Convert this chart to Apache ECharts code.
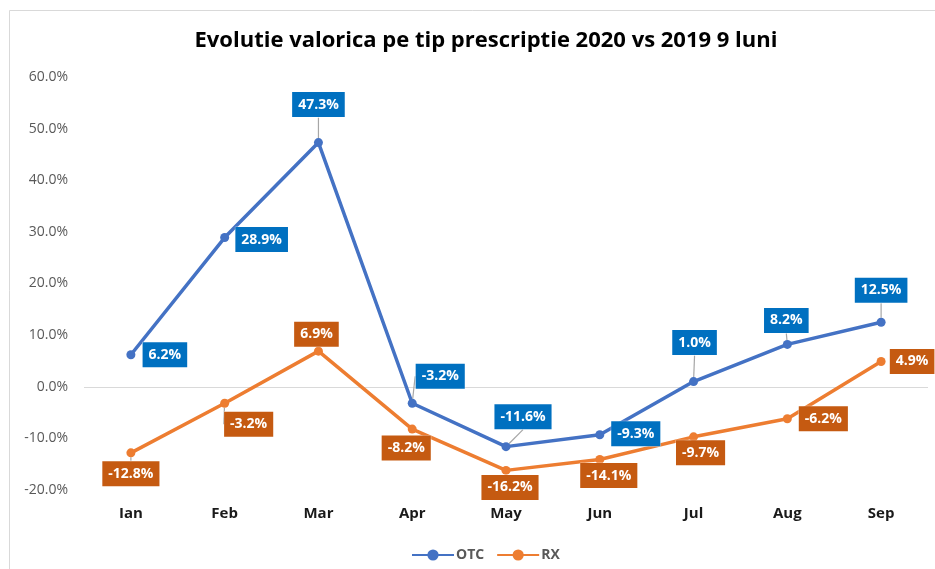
<!DOCTYPE html>
<html>
<head>
<meta charset="utf-8">
<script src="https://cdn.jsdelivr.net/npm/echarts@6/dist/echarts.min.js"></script>
<style>
html,body{margin:0;padding:0;background:#fff;}
#chart{width:935px;height:569px;}
</style>
</head>
<body>
<div id="chart"></div>
<script>
// ---- data ----
var categories = ['Ian', 'Feb', 'Mar', 'Apr', 'May', 'Jun', 'Jul', 'Aug', 'Sep'];
var otcValues = [6.2, 28.9, 47.3, -3.2, -11.6, -9.3, 1.0, 8.2, 12.5];
var rxValues = [-12.8, -3.2, 6.9, -8.2, -16.2, -14.1, -9.7, -6.2, 4.9];
var seriesNames = ['OTC', 'RX'];
var titleText = 'Evolutie valorica pe tip prescriptie 2020 vs 2019 9 luni';
var yMin = -20, yMax = 60, yStep = 10;

// ---- label layout (style only: offsets of data-label boxes from their points) ----
var otcLabelOffsets = [[34, 0], [37, 2], [0, -38], [28, -27], [17, -30], [36, -1], [1, -39], [-1, -24], [0, -32]];
var rxLabelOffsets = [[0, 21], [24, 21], [-2, -17], [-6, 19], [4, 17], [9, 16], [7, 16], [36, 0], [31, 0]];
var otcLeader = [false, false, true, true, true, false, true, true, true];
var rxLeader = [true, true, false, false, false, false, false, false, false];

function buildData(values, leader) {
  return values.map(function (v, i) {
    return { value: v, labelLine: { show: leader[i] } };
  });
}

function pct(v) { return v.toFixed(1) + '%'; }

var labelFont = 'Open Sans';
function makeLabel(bg) {
  return {
    show: true,
    position: 'inside',
    formatter: function (p) { return pct(p.value); },
    color: '#fff',
    fontFamily: labelFont,
    fontWeight: 'bold',
    fontSize: 14,
    lineHeight: 17,
    backgroundColor: bg,
    padding: [4, 6, 4, 6],
    borderColor: 'rgba(255,255,255,0.6)',
    borderWidth: 0.5
  };
}

function makeLayout(offsets) {
  return function (params) {
    var o = offsets[params.dataIndex];
    return { dx: o[0], dy: o[1] };
  };
}

var chart = echarts.init(document.getElementById('chart'), null, { renderer: 'canvas' });
var option = {
  animation: false,
  backgroundColor: '#fff',
  graphic: [{
    type: 'rect',
    silent: true,
    shape: { x: 9.5, y: 10.5, width: 960, height: 600 },
    style: { fill: 'none', stroke: '#D9D9D9', lineWidth: 1 }
  }],
  title: {
    text: titleText,
    left: 481,
    textAlign: 'center',
    top: 25,
    textStyle: { fontFamily: 'Open Sans', fontWeight: 'bold', fontSize: 22, color: '#000' }
  },
  legend: {
    data: seriesNames,
    left: 406,
    top: 543,
    itemWidth: 42,
    itemHeight: 14,
    itemGap: 12,
    textStyle: { fontFamily: 'Open Sans', fontWeight: 'bold', fontSize: 14, color: '#595959', padding: [0, 0, 0, -3] }
  },
  grid: { left: 84, right: 7, top: 77, bottom: 79, containLabel: false },
  xAxis: {
    type: 'category',
    data: categories,
    boundaryGap: true,
    axisLine: { show: false, onZero: false },
    axisTick: { show: false },
    axisLabel: { fontFamily: 'Open Sans', fontWeight: 'bold', fontSize: 15, color: '#1a1a1a', margin: 16 },
    splitLine: { show: false }
  },
  yAxis: {
    type: 'value',
    min: yMin,
    max: yMax,
    interval: yStep,
    axisLine: { show: false },
    axisTick: { show: false },
    splitLine: { show: false },
    axisLabel: {
      formatter: function (v) { return pct(v); },
      fontFamily: 'Open Sans',
      fontSize: 14,
      color: '#595959',
      margin: 16
    }
  },
  series: [{
    name: seriesNames[0],
    type: 'line',
    data: buildData(otcValues, otcLeader),
    symbol: 'circle',
    symbolSize: 9,
    lineStyle: { color: '#4472C4', width: 3.5 },
    itemStyle: { color: '#4472C4' },
    label: makeLabel('#0070C0'),
    labelLine: { lineStyle: { color: '#A6A6A6', width: 1.2 } },
    labelLayout: makeLayout(otcLabelOffsets),
    markLine: {
      silent: true,
      symbol: 'none',
      label: { show: false },
      lineStyle: { color: '#D9D9D9', type: 'solid', width: 1 },
      data: [{ yAxis: 0 }],
      z: 1
    },
    z: 3
  }, {
    name: seriesNames[1],
    type: 'line',
    data: buildData(rxValues, rxLeader),
    symbol: 'circle',
    symbolSize: 9,
    lineStyle: { color: '#ED7D31', width: 3.5 },
    itemStyle: { color: '#ED7D31' },
    label: makeLabel('#C55A11'),
    labelLine: { lineStyle: { color: '#A6A6A6', width: 1.2 } },
    labelLayout: makeLayout(rxLabelOffsets),
    z: 2
  }]
};
chart.setOption(option);
</script>
</body>
</html>
